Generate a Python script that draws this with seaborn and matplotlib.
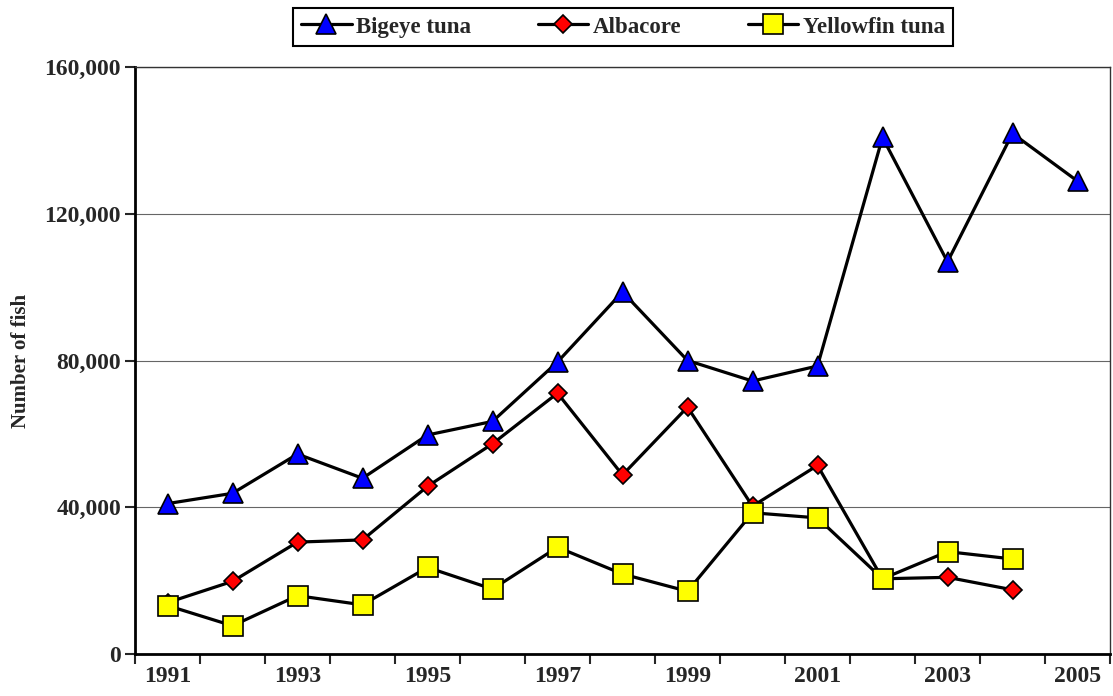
import numpy as np
import pandas as pd
import seaborn as sns
import matplotlib.pyplot as plt
from matplotlib.ticker import FuncFormatter

years = list(range(1991, 2006))
bigeye = [41000, 43800, 54500, 47900, 59700, 63400, 79600, 98700, 80000, 74400,
          78500, 140800, 106900, 141900, 128900]
albacore = [14000, 19800, 30500, 31100, 45700, 57300, 71100, 48800, 67300, 40300,
            51400, 20500, 20900, 17500, None]
yellowfin = [13200, 7700, 15900, 13400, 23600, 17700, 29100, 21800, 17100, 38500,
             37100, 20500, 27900, 25900, None]

series_names = ['Bigeye tuna', 'Albacore', 'Yellowfin tuna']
df = pd.DataFrame({'year': years, 'Bigeye tuna': bigeye,
                   'Albacore': albacore, 'Yellowfin tuna': yellowfin})

sns.set_style('white')
plt.rcParams['font.family'] = ['Liberation Serif', 'DejaVu Serif']
plt.rcParams['font.weight'] = 'bold'

fig = plt.figure(figsize=(11.13, 6.96), dpi=100)
ax = fig.add_axes([135 / 1113, 1 - 654 / 696, 975 / 1113, 587 / 696])

styles = {
    'Bigeye tuna': dict(marker='^', markersize=14, markerfacecolor='#0000ff'),
    'Albacore': dict(marker='D', markersize=9.5, markerfacecolor='#ff0000'),
    'Yellowfin tuna': dict(marker='s', markersize=14, markerfacecolor='#ffff00'),
}
for name in series_names:
    sub = df[['year', name]].dropna()
    sns.lineplot(data=sub, x='year', y=name, ax=ax, color='black', linewidth=2.3,
                 markeredgecolor='black', markeredgewidth=1.2, label=name,
                 **styles[name])

ax.set_xlim(1990.5, 2005.5)
ax.set_ylim(0, 160000)
ax.set_yticks([0, 40000, 80000, 120000, 160000])
ax.yaxis.set_major_formatter(FuncFormatter(lambda v, p: f'{int(v):,}'))
ax.set_xticks(years[::2])
ax.set_xticks(np.arange(1990.5, 2006, 1), minor=True)
ax.tick_params(axis='x', which='major', length=0, pad=9, labelsize=17)
ax.tick_params(axis='x', which='minor', length=7, width=1.5, direction='out', bottom=True)
ax.tick_params(axis='y', length=7, width=1.5, direction='out', left=True, labelsize=17, pad=3)
for lab in ax.get_xticklabels() + ax.get_yticklabels():
    lab.set_fontweight('bold')

ax.grid(axis='y', color='#666666', linewidth=0.8)
ax.set_axisbelow(True)
ax.set_xlabel('')
ax.set_ylabel('Number of fish', fontsize=15, fontweight='bold', labelpad=10)

for side in ['left', 'bottom']:
    ax.spines[side].set_linewidth(2)
    ax.spines[side].set_color('black')
for side in ['top', 'right']:
    ax.spines[side].set_linewidth(1)
    ax.spines[side].set_color('#333333')

leg = ax.legend(loc='center', bbox_to_anchor=(623 / 1113, 1 - 27 / 696),
                bbox_transform=fig.transFigure, ncol=3, frameon=True, fancybox=False,
                edgecolor='black', framealpha=1, handlelength=2.2, columnspacing=2.9,
                prop={'weight': 'bold', 'size': 16.5}, borderpad=0.35, handletextpad=0.2,
                borderaxespad=0)
leg.get_frame().set_linewidth(1.5)

fig.savefig('out.png', dpi=100)
